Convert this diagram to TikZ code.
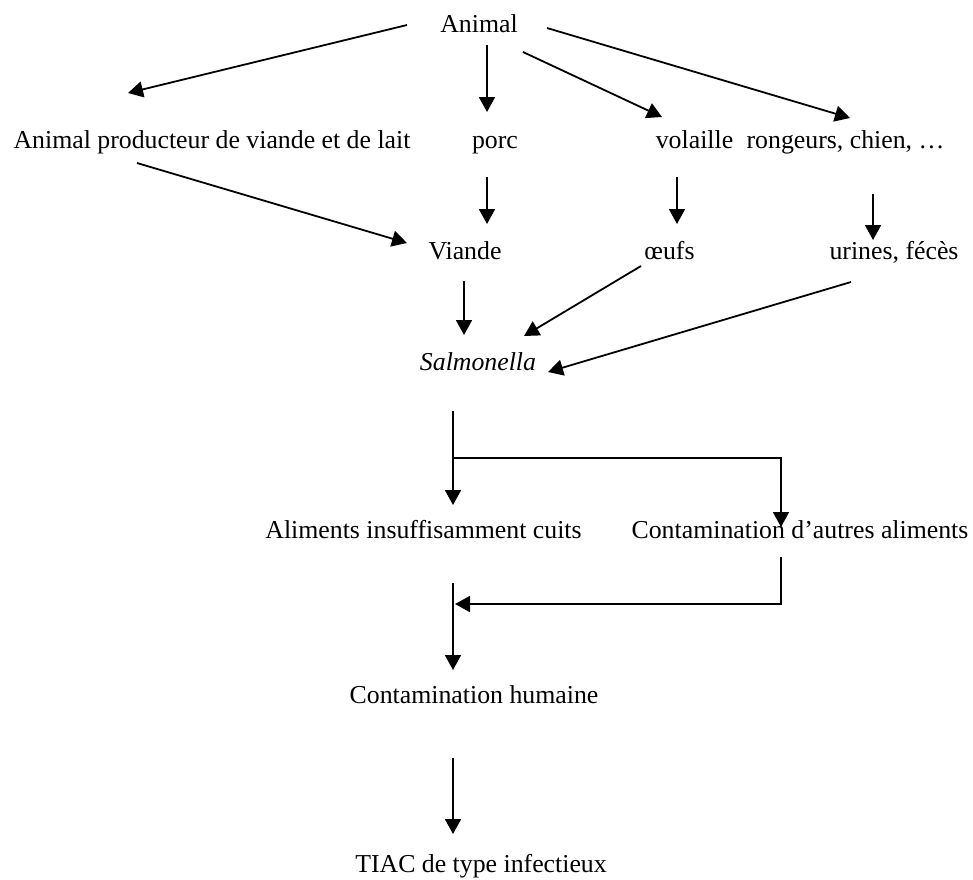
\documentclass[tikz,border=0pt]{standalone}
\usepackage{fontspec}
\setmainfont{Liberation Serif}
\usetikzlibrary{arrows.meta}
\tikzset{
	lbl/.style={inner sep=0pt, anchor=base, font=\fontsize{12.9}{15}\selectfont},
	arr/.style={-{Triangle[length=7.5pt,width=8pt]}, line width=0.9pt},
}
\begin{document}
\begin{tikzpicture}[x=0.5pt,y=-0.5pt]
	\useasboundingbox (0,0) rectangle (973,879);
	\node[lbl] (animal) at (479,32) {Animal};
	\node[lbl] (prod) at (212,148) {Animal producteur de viande et de lait};
	\node[lbl] (porc) at (495,148) {porc};
	\node[lbl] (volaille) at (694.5,148) {volaille};
	\node[lbl] (rongeurs) at (845.5,148) {rongeurs, chien, …};
	\node[lbl] (viande) at (465,259) {Viande};
	\node[lbl] (oeufs) at (669.5,259) {œufs};
	\node[lbl] (urines) at (894,259) {urines, fécès};
	\node[lbl] (salm) at (478,370) {\itshape Salmonella};
	\node[lbl] (aliments) at (423.5,538) {Aliments insuffisamment cuits};
	\node[lbl] (autres) at (800,538) {Contamination d’autres aliments};
	\node[lbl] (humaine) at (474,703) {Contamination humaine};
	\node[lbl] (tiac) at (481,872) {TIAC de type infectieux};
	% from Animal
	\draw[arr] ([shift={(-72,-7)}]animal.base) -- ([shift={(-84,-55)}]prod.base);
	\draw[arr] ([shift={(8,13)}]animal.base) -- ([shift={(-8,-36)}]porc.base);
	\draw[arr] ([shift={(44,20)}]animal.base) -- ([shift={(-32.5,-31)}]volaille.base);
	\draw[arr] ([shift={(68,-4)}]animal.base) -- ([shift={(4.5,-30)}]rongeurs.base);
	% second row
	\draw[arr] ([shift={(-75,15)}]prod.base) -- ([shift={(-58,-16)}]viande.base);
	\draw[arr] ([shift={(-8,29)}]porc.base) -- ([shift={(22,-35)}]viande.base);
	\draw[arr] ([shift={(-17.5,29)}]volaille.base) -- ([shift={(7.5,-35)}]oeufs.base);
	\draw[arr] ([shift={(27.5,46)}]rongeurs.base) -- ([shift={(-21,-19)}]urines.base);
	% to Salmonella
	\draw[arr] ([shift={(-1,22)}]viande.base) -- ([shift={(-14,-35)}]salm.base);
	\draw[arr] ([shift={(-28.5,7)}]oeufs.base) -- ([shift={(46,-34)}]salm.base);
	\draw[arr] ([shift={(-43,23)}]urines.base) -- ([shift={(70,2)}]salm.base);
	% foods
	\draw[arr] ([shift={(-25,41)}]salm.base) -- ([shift={(29.5,-33)}]aliments.base);
	\draw[arr] ([shift={(-25,88)}]salm.base) -| ([shift={(-19,-11)}]autres.base);
	\draw[arr] ([shift={(-19,19)}]autres.base) |- ([shift={(-19,-99)}]humaine.base);
	\draw[arr] ([shift={(29.5,45)}]aliments.base) -- ([shift={(-21,-33)}]humaine.base);
	\draw[arr] ([shift={(-21,55)}]humaine.base) -- ([shift={(-28,-38)}]tiac.base);
\end{tikzpicture}
\end{document}
